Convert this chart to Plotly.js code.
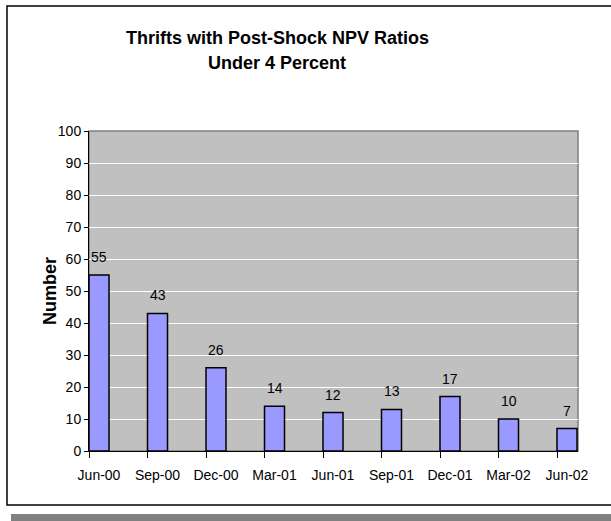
<!DOCTYPE html>
<html>
<head>
<meta charset="utf-8">
<script src="https://cdn.plot.ly/plotly-3.0.1.min.js"></script>
<style>
  html, body { margin: 0; padding: 0; background: #fff; }
  #chart { width: 611px; height: 521px; }
</style>
</head>
<body>
<div id="chart"></div>
<script>
// quarters and number of thrifts
var quarters = ['Jun-00', 'Sep-00', 'Dec-00', 'Mar-01', 'Jun-01', 'Sep-01', 'Dec-01', 'Mar-02', 'Jun-02'];
var thrifts = [55, 43, 26, 14, 12, 13, 17, 10, 7];
var yTicks = [0, 10, 20, 30, 40, 50, 60, 70, 80, 90, 100];

var barW = 0.342;
var xPos = quarters.map(function (_, i) { return i; });

var trace = {
    x: xPos,
    y: thrifts,
    type: 'bar',
    width: barW,
    offset: 0,
    marker: { color: '#9999FF', line: { color: '#000000', width: 1.5 } },
    hoverinfo: 'skip'
};

// value labels above the bars
var labels = thrifts.map(function (v, i) {
    return {
        x: i + barW / 2, y: v, xref: 'x', yref: 'y',
        text: String(v), showarrow: false,
        yanchor: 'bottom', yshift: 8,
        font: { family: 'Liberation Sans, Arial', size: 14, color: '#000' }
    };
});

var annotations = labels.concat([
    { x: 0.3845, y: 1.2906, xref: 'paper', yref: 'paper', showarrow: false, yanchor: 'middle',
      text: '<b>Thrifts with Post-Shock NPV Ratios</b>',
      font: { family: 'Liberation Sans, Arial', size: 18, color: '#000' } },
    { x: 0.3845, y: 1.2125, xref: 'paper', yref: 'paper', showarrow: false, yanchor: 'middle',
      text: '<b>Under 4 Percent</b>',
      font: { family: 'Liberation Sans, Arial', size: 18, color: '#000' } },
    { x: -0.1043, y: 0.5, xref: 'paper', yref: 'paper', showarrow: false, textangle: -90,
      text: '<b>Number</b>',
      font: { family: 'Liberation Sans, Arial', size: 18, color: '#000' } }
]);

var layout = {
    width: 611,
    height: 521,
    margin: { l: 89, r: 33, t: 131, b: 70 },
    paper_bgcolor: '#ffffff',
    plot_bgcolor: '#C0C0C0',
    showlegend: false,
    font: { family: 'Liberation Sans, Arial', size: 14, color: '#000' },
    xaxis: {
        range: [0, 8.359],
        tickvals: xPos,
        ticktext: quarters,
        ticklabelshift: 10,
        ticklabelstandoff: 5,
        ticks: 'outside', ticklen: 6, tickcolor: '#000',
        showgrid: false, zeroline: false,
        showline: true, linecolor: '#000', linewidth: 1,
        tickfont: { size: 14 },
        fixedrange: true
    },
    yaxis: {
        range: [0, 100],
        tickvals: yTicks,
        ticks: 'outside', ticklen: 4, tickcolor: '#000',
        showgrid: true, gridcolor: '#ffffff', gridwidth: 1,
        zeroline: false,
        showline: true, linecolor: '#000', linewidth: 1,
        tickfont: { size: 14 },
        fixedrange: true
    },
    annotations: annotations,
    shapes: [
        // grey plot area frame
        { type: 'rect', xref: 'paper', yref: 'paper', x0: 0, x1: 1, y0: 0, y1: 1,
          line: { color: '#808080', width: 1.5 }, layer: 'below' },
        // outer chart frame
        { type: 'rect', xref: 'paper', yref: 'paper', x0: -0.1677, x1: 1.2, y0: -0.16875, y1: 1.3906,
          line: { color: '#000', width: 1.5 } },
        // grey strip at the bottom
        { type: 'rect', xref: 'paper', yref: 'paper', x0: -0.1595, x1: 1.2, y0: -0.21875, y1: -0.196875,
          fillcolor: '#808080', line: { width: 0 } }
    ]
};

Plotly.newPlot('chart', [trace], layout, { displayModeBar: false, staticPlot: true });
</script>
</body>
</html>
